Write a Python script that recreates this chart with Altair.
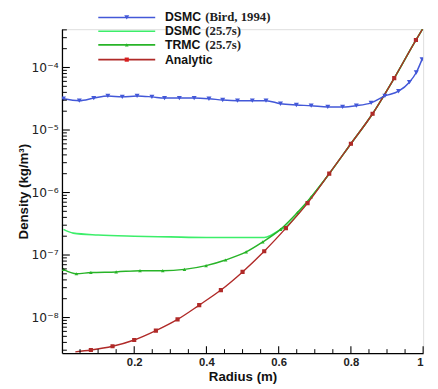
import altair as alt
import pandas as pd

# ---------------- data ----------------
r_bird = [0.004, 0.048, 0.088, 0.127, 0.167, 0.208, 0.249, 0.284, 0.325, 0.366, 0.407, 0.445, 0.486, 0.527,
          0.565, 0.605, 0.649, 0.690, 0.736, 0.777, 0.815, 0.856, 0.894, 0.932, 0.962, 0.981, 0.997]
rho_bird = [3.16e-5, 2.95e-5, 3.24e-5, 3.51e-5, 3.39e-5, 3.51e-5, 3.39e-5, 3.24e-5, 3.24e-5, 3.24e-5, 3.16e-5,
            3.02e-5, 2.95e-5, 2.95e-5, 2.95e-5, 2.63e-5, 2.51e-5, 2.45e-5, 2.34e-5, 2.34e-5, 2.45e-5, 2.72e-5,
            3.51e-5, 4.17e-5, 5.82e-5, 8.32e-5, 1.35e-4]

r_dsmc = [0.004, 0.031, 0.1, 0.2, 0.3, 0.4, 0.5, 0.56, 0.58, 0.60, 0.62, 0.65, 0.68, 0.74, 0.80, 0.86, 0.92, 0.98, 1.0]
rho_dsmc = [2.57e-7, 2.24e-7, 2.09e-7, 2.0e-7, 1.95e-7, 1.91e-7, 1.91e-7, 1.91e-7, 2.09e-7, 2.45e-7, 2.82e-7,
            4.27e-7, 7.08e-7, 2.0e-6, 6.03e-6, 1.82e-5, 6.76e-5, 2.75e-4, 4.27e-4]

r_trmc = [0.004, 0.04, 0.08, 0.15, 0.216, 0.279, 0.339, 0.399, 0.453, 0.51, 0.556, 0.605, 0.652, 0.69,
          0.74, 0.80, 0.86, 0.92, 0.98, 1.0]
rho_trmc = [5.89e-8, 5.01e-8, 5.25e-8, 5.37e-8, 5.62e-8, 5.62e-8, 5.89e-8, 6.76e-8, 8.32e-8, 1.12e-7, 1.62e-7,
            2.57e-7, 4.79e-7, 8.51e-7, 2.0e-6, 6.03e-6, 1.82e-5, 6.76e-5, 2.75e-4, 4.27e-4]

r_an = [0.037, 0.08, 0.14, 0.20, 0.26, 0.32, 0.38, 0.44, 0.50, 0.56, 0.62, 0.68, 0.74, 0.80, 0.86, 0.92, 0.98, 1.0]
rho_an = [2.82e-9, 3.02e-9, 3.47e-9, 4.37e-9, 6.17e-9, 9.33e-9, 1.58e-8, 2.75e-8, 5.37e-8, 1.15e-7, 2.69e-7,
          6.76e-7, 2.0e-6, 6.03e-6, 1.82e-5, 6.76e-5, 2.75e-4, 4.27e-4]
mark_an = [0, 1, 1, 1, 1, 1, 1, 1, 1, 1, 1, 1, 1, 1, 1, 1, 1, 0]

x_major = [0.2, 0.4, 0.6, 0.8, 1.0]
x_minor = [0.05, 0.1, 0.15, 0.25, 0.3, 0.35, 0.45, 0.5, 0.55, 0.65, 0.7, 0.75, 0.85, 0.9, 0.95]
y_exps = [-8, -7, -6, -5, -4]
y_labels = ["10⁻⁸", "10⁻⁷", "10⁻⁶", "10⁻⁵", "10⁻⁴"]

Y_DOMAIN = [2.7e-9, 4.1e-4]
W, H = 368, 330

# ---------------- scales / axes ----------------
xs = alt.Scale(domain=[0, 1], nice=False, zero=False)
ys = alt.Scale(type="log", domain=Y_DOMAIN, nice=False)

lab_expr = " : ".join(
    f"datum.value > {0.5 * 10 ** e} ? '{lab}'" for e, lab in sorted(zip(y_exps, y_labels), reverse=True)
) + " : ''"

x_axis = alt.Axis(values=x_major, labelExpr="datum.value == 1 ? '1' : format(datum.value, '.1f')",
                  ticks=False, grid=False, domainColor="black", domainWidth=1.3,
                  labelFont="Liberation Sans", labelFontSize=11.5, labelFontWeight="bold", labelColor="#222",
                  labelPadding=4, title="Radius (m)", titleFont="Liberation Sans", titleFontSize=13.5,
                  titleFontWeight="bold", titleColor="#111", titlePadding=1)
y_axis = alt.Axis(values=[10.0 ** e for e in y_exps], labelExpr=lab_expr,
                  ticks=False, grid=False, domainColor="black", domainWidth=1.3,
                  labelFont="DejaVu Sans", labelFontSize=12.5, labelColor="#222",
                  labelPadding=4, title="Density (kg/m³)", titleFont="Liberation Sans", titleFontSize=13.5,
                  titleFontWeight="bold", titleColor="#111", titlePadding=1)


def series(r, rho, color, width, shape=None, size=20, mark=None):
    df = pd.DataFrame({"r": r, "rho": rho})
    df["mk"] = mark if mark is not None else [1] * len(r)
    base = alt.Chart(df)
    line = base.mark_line(color=color, strokeWidth=width, clip=True, interpolate="monotone").encode(
        x=alt.X("r:Q", scale=xs, axis=x_axis), y=alt.Y("rho:Q", scale=ys, axis=y_axis))
    if shape is None:
        return [line]
    pts = base.transform_filter("datum.mk == 1").mark_point(
        shape=shape, filled=True, color=color, size=size, opacity=1, clip=True).encode(
        x=alt.X("r:Q", scale=xs), y=alt.Y("rho:Q", scale=ys))
    return [line, pts]


BLUE = "#4358d8"
LGREEN = "#3cee6a"
GREEN = "#28b428"
RED = "#b02a28"
RED_M = "#d81e1e"

layers = []
layers += series(r_dsmc, rho_dsmc, LGREEN, 1.6)
layers += series(r_trmc, rho_trmc, GREEN, 1.5, "triangle-up", 14)
layers += series(r_an, rho_an, RED, 1.4, "square", 18, mark_an)
layers += series(r_bird, rho_bird, BLUE, 1.5, "triangle-down", 26)

# ---------------- inward ticks ----------------
one = pd.DataFrame({"k": [0]})
layers.append(alt.Chart(pd.DataFrame({"r": x_major})).mark_rule(color="black", strokeWidth=1.1).encode(
    x=alt.X("r:Q", scale=xs), y=alt.value(H), y2=alt.value(H - 7)))
layers.append(alt.Chart(pd.DataFrame({"r": x_minor})).mark_rule(color="black", strokeWidth=1).encode(
    x=alt.X("r:Q", scale=xs), y=alt.value(H), y2=alt.value(H - 4)))
y_major = [10.0 ** e for e in y_exps]
y_minor = [m * 10.0 ** e for e in range(-9, -3) for m in range(2, 10)
           if Y_DOMAIN[0] <= m * 10.0 ** e <= Y_DOMAIN[1]]
layers.append(alt.Chart(pd.DataFrame({"v": y_major})).mark_rule(color="black", strokeWidth=1.1).encode(
    y=alt.Y("v:Q", scale=ys), x=alt.value(0), x2=alt.value(8)))
layers.append(alt.Chart(pd.DataFrame({"v": y_minor})).mark_rule(color="black", strokeWidth=1).encode(
    y=alt.Y("v:Q", scale=ys), x=alt.value(0), x2=alt.value(5)))

# ---------------- manual legend ----------------
leg_names = ["DSMC", "DSMC", "TRMC", "Analytic"]
leg_suffix = ["(Bird, 1994)", "(25.7s)", "(25.7s)", ""]
leg_colors = [BLUE, LGREEN, GREEN, RED]
leg_mcolors = [BLUE, None, GREEN, RED_M]
leg_shapes = ["triangle-down", None, "triangle-up", "square"]
leg_sizes = [26, 0, 14, 18]
row_y = [-12, 2, 16, 31]
for i in range(4):
    yv = row_y[i]
    layers.append(alt.Chart(one).mark_rule(color=leg_colors[i], strokeWidth=1.6).encode(
        x=alt.value(37), x2=alt.value(95), y=alt.value(yv)))
    if leg_shapes[i]:
        layers.append(alt.Chart(one).mark_point(shape=leg_shapes[i], filled=True, opacity=1,
                                                color=leg_mcolors[i], size=leg_sizes[i]).encode(
            x=alt.value(66), y=alt.value(yv)))
    layers.append(alt.Chart(one).mark_text(align="left", baseline="middle", font="Liberation Sans",
                                           fontSize=12.5, fontWeight="bold", color="#111").encode(
        x=alt.value(105), y=alt.value(yv), text=alt.value(leg_names[i])))
    if leg_suffix[i]:
        layers.append(alt.Chart(one).mark_text(align="left", baseline="middle", font="Liberation Serif",
                                               fontSize=13, fontWeight="bold", color="#222").encode(
            x=alt.value(146), y=alt.value(yv), text=alt.value(leg_suffix[i])))

chart = alt.layer(*layers).properties(
    width=W, height=H,
    autosize=alt.AutoSizeParams(type="none"),
    padding={"left": 55, "top": 18, "right": 7, "bottom": 32},
).configure_view(stroke=None).configure(background="white")

chart.save("out.html", embed_options={"renderer": "svg", "actions": False})
